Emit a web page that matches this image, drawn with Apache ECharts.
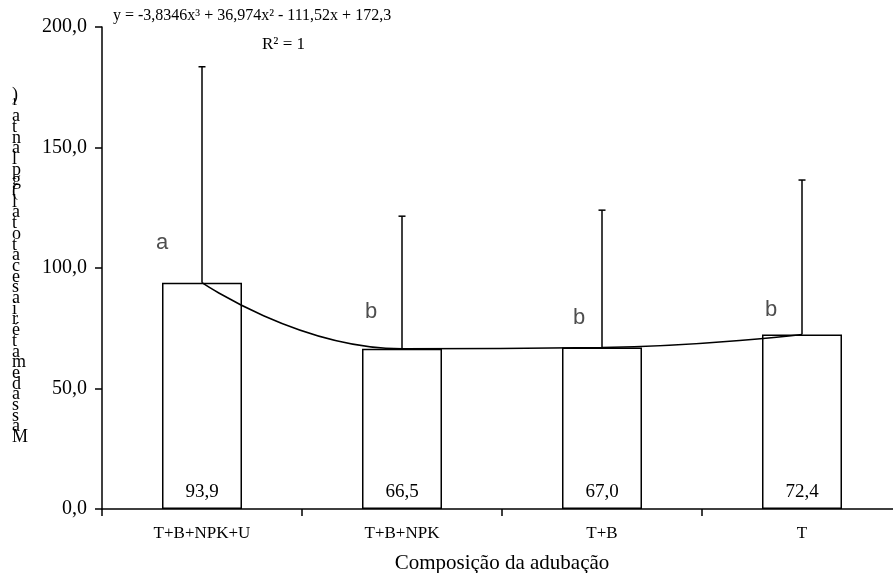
<!DOCTYPE html>
<html>
<head>
<meta charset="utf-8">
<script src="https://cdn.jsdelivr.net/npm/echarts@6/dist/echarts.min.js"></script>
<style>html,body{margin:0;padding:0;background:#fff}#c{width:893px;height:573px}</style>
</head>
<body>
<div id="c"></div>
<script>
var categories = ['T+B+NPK+U', 'T+B+NPK', 'T+B', 'T'];
var means = [93.9, 66.5, 67.0, 72.4];
var errorTops = [183.5, 121.5, 124.0, 136.5];
var letters = ['a', 'b', 'b', 'b'];
var yTicks = [0, 50, 100, 150, 200];
var yLabel = 'Massadematériasecatotal(gplanta¹)';
var equation = 'y = -3,8346x³ + 36,974x² - 111,52x + 172,3';
var r2 = 'R² = 1';
var xName = 'Composição da adubação';

// layout only (label offsets in px)
var letterOffsets = [[-40, -40], [-31, -37], [-23, -30], [-31, -25]];

var serif = '"Liberation Serif", "Times New Roman", serif';
var sans = '"Liberation Sans", Arial, sans-serif';

var chars = Array.from(yLabel).reverse();

var chart = echarts.init(document.getElementById('c'));
chart.setOption({
  animation: false,
  grid: { left: 102, top: 27, width: 800, height: 482, outerBoundsMode: 'none', containLabel: false },
  xAxis: {
    type: 'category',
    data: categories,
    axisLine: { lineStyle: { color: '#000', width: 1.5 } },
    axisTick: { show: true, length: 7, lineStyle: { color: '#000', width: 1.5 } },
    axisLabel: { color: '#000', fontFamily: serif, fontSize: 17, margin: 16 },
    name: xName,
    nameLocation: 'middle',
    nameGap: 44,
    nameTextStyle: { color: '#000', fontFamily: serif, fontSize: 21 }
  },
  yAxis: {
    type: 'value',
    min: yTicks[0],
    max: yTicks[yTicks.length - 1],
    interval: 50,
    splitLine: { show: false },
    axisLine: { show: true, lineStyle: { color: '#000', width: 1.5 } },
    axisTick: { show: true, length: 7, lineStyle: { color: '#000', width: 1.5 } },
    axisLabel: {
      color: '#000', fontFamily: serif, fontSize: 20, margin: 15,
      formatter: function (v) { return v.toFixed(1).replace('.', ','); }
    }
  },
  graphic: [
    {
      type: 'text', left: 113, top: 8,
      style: { text: equation, font: '16px ' + serif, fill: '#000' }
    },
    {
      type: 'text', left: 262, top: 36,
      style: { text: r2, font: '17px ' + serif, fill: '#000' }
    },
    {
      type: 'text', left: 12, top: 86,
      style: {
        text: chars.join('\n'), font: '18px ' + serif, fill: '#000',
        lineHeight: 10.7, align: 'left'
      }
    }
  ],
  series: [
    {
      type: 'bar',
      data: means,
      barWidth: 80,
      itemStyle: { color: '#fff', borderColor: '#000', borderWidth: 1.5 },
      label: {
        show: true, position: 'insideBottom', distance: 7,
        color: '#000', fontFamily: serif, fontSize: 19,
        formatter: function (p) { return p.value.toFixed(1).replace('.', ','); }
      },
      z: 2
    },
    {
      type: 'custom',
      data: means.map(function (m, i) { return [i, m, errorTops[i]]; }),
      renderItem: function (params, api) {
        var p0 = api.coord([api.value(0), api.value(1)]);
        var p1 = api.coord([api.value(0), api.value(2)]);
        return {
          type: 'group',
          children: [
            { type: 'line', shape: { x1: p0[0], y1: p0[1], x2: p1[0], y2: p1[1] }, style: { stroke: '#000', lineWidth: 1.5 } },
            { type: 'line', shape: { x1: p1[0] - 3.5, y1: p1[1], x2: p1[0] + 3.5, y2: p1[1] }, style: { stroke: '#000', lineWidth: 1.5 } }
          ]
        };
      },
      z: 3
    },
    {
      type: 'line',
      data: means,
      smooth: 0.5,
      symbol: 'none',
      lineStyle: { color: '#000', width: 1.5 },
      z: 4
    },
    {
      type: 'scatter',
      data: means.map(function (m, i) {
        return { value: m, label: { offset: letterOffsets[i] } };
      }),
      symbolSize: 0,
      label: {
        show: true, position: 'inside',
        color: '#222', fontFamily: sans, fontSize: 22,
        formatter: function (p) { return letters[p.dataIndex]; }
      },
      z: 5
    }
  ]
});
</script>
</body>
</html>
